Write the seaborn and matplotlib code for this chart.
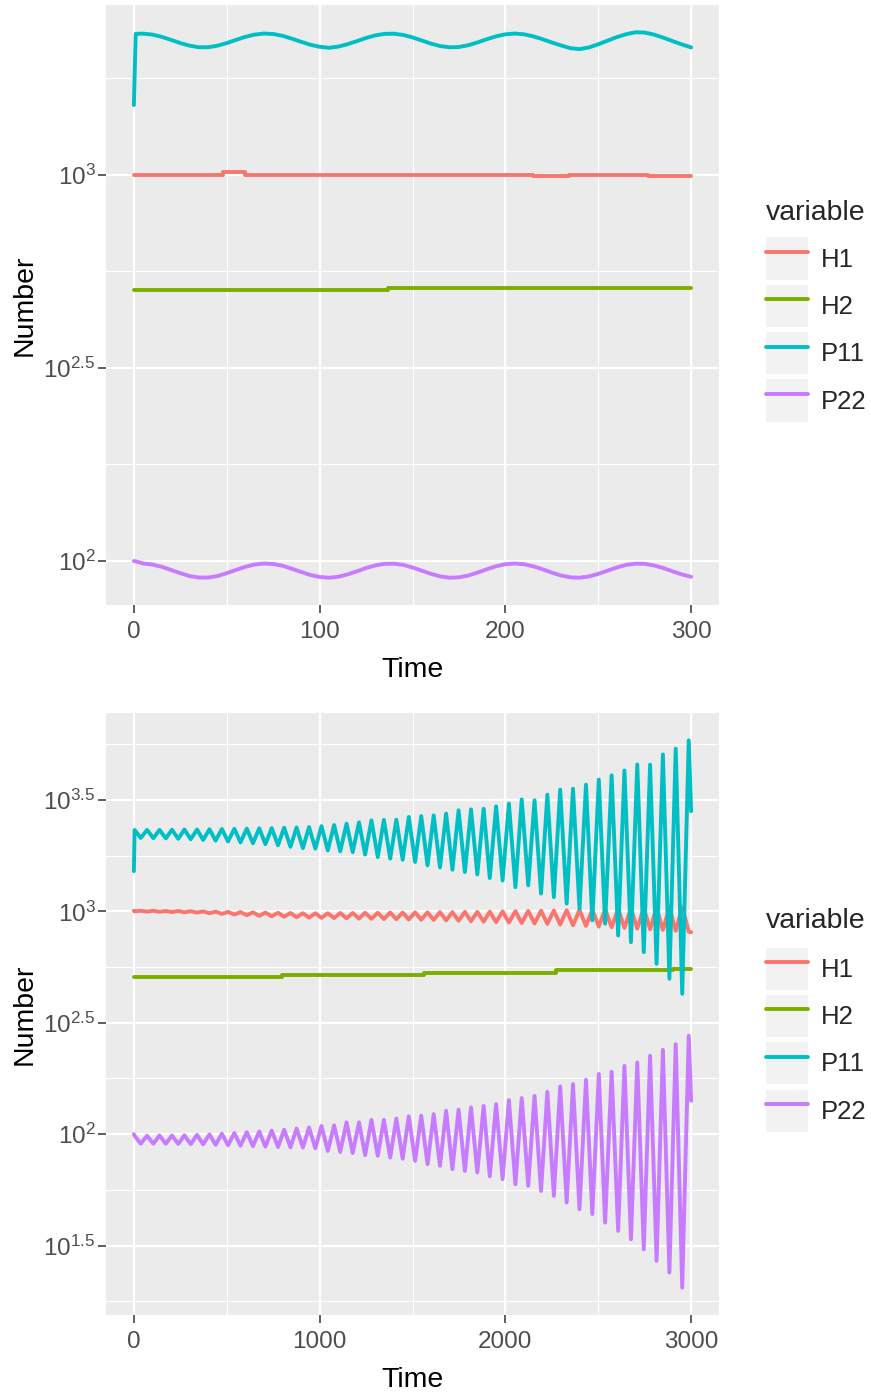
import numpy as np
import pandas as pd
import matplotlib
matplotlib.use("Agg")
import matplotlib.pyplot as plt
from matplotlib.lines import Line2D
from matplotlib.patches import Rectangle
from matplotlib.legend_handler import HandlerTuple
from matplotlib.ticker import FixedLocator, FixedFormatter, NullFormatter
import seaborn as sns

# ---------------- data ----------------
series_names = ["H1", "H2", "P11", "P22"]
series_colors = ["#F8766D", "#7CAE00", "#00BFC4", "#C77CFF"]

# Top panel: Time 0-300
top_h1_time = [0, 48, 60, 215, 234, 277, 300]
top_h1_value = [1000, 1015, 1000, 993, 1000, 993, 993]
top_h2_time = [0, 137, 300]
top_h2_value = [504, 511, 511]
top_p_time = [0, 1, 5, 10, 15, 20, 25, 30, 35, 40,
              45, 50, 55, 60, 65, 70, 75, 80, 85, 90,
              95, 100, 105, 110, 115, 120, 125, 130, 135, 140,
              145, 150, 155, 160, 165, 170, 175, 180, 185, 190,
              195, 200, 205, 210, 215, 220, 225, 230, 235, 240,
              245, 250, 255, 260, 265, 270, 275, 280, 285, 290,
              295, 300]
top_p11_value = [1517, 2320, 2323, 2310, 2279, 2238, 2196, 2162, 2142, 2142,
                 2162, 2196, 2238, 2279, 2310, 2324, 2318, 2293, 2255, 2213,
                 2174, 2148, 2135, 2150, 2181, 2221, 2264, 2299, 2320, 2322,
                 2305, 2272, 2230, 2188, 2157, 2141, 2145, 2168, 2204, 2247,
                 2286, 2314, 2324, 2314, 2286, 2247, 2204, 2165, 2130, 2118,
                 2140, 2180, 2228, 2275, 2315, 2342, 2338, 2310, 2268, 2222,
                 2178, 2140]
top_p22_value = [100.0, 99.8, 98.5, 97.9, 96.6, 94.8, 93.0, 91.4, 90.6, 90.6,
                 91.4, 93.0, 94.8, 96.6, 97.9, 98.5, 98.2, 97.2, 95.5, 93.7,
                 92.0, 90.9, 90.5, 91.0, 92.3, 94.0, 95.9, 97.4, 98.3, 98.4,
                 97.7, 96.2, 94.4, 92.6, 91.2, 90.5, 90.7, 91.7, 93.3, 95.2,
                 96.9, 98.1, 98.5, 98.1, 96.9, 95.2, 93.3, 91.7, 90.7, 90.5,
                 91.2, 92.6, 94.4, 96.2, 97.7, 98.4, 98.3, 97.4, 95.9, 94.0,
                 92.3, 91.0]

# Bottom panel: Time 0-3000 (log10 units)
bot_peak_time = [4, 71, 138, 205, 272, 340, 407, 474, 541, 608,
                 675, 742, 809, 876, 943, 1010, 1078, 1145, 1212, 1279,
                 1346, 1413, 1480, 1547, 1614, 1681, 1748, 1815, 1883, 1950,
                 2019, 2088, 2157, 2226, 2295, 2364, 2434, 2503, 2572, 2641,
                 2710, 2779, 2848, 2917, 2987]
bot_trough_time = [37, 105, 172, 239, 306, 373, 440, 507, 574, 641,
                   708, 776, 843, 910, 977, 1044, 1111, 1178, 1245, 1313,
                   1380, 1447, 1514, 1581, 1648, 1715, 1782, 1849, 1916, 1985,
                   2054, 2123, 2192, 2261, 2330, 2399, 2468, 2537, 2607, 2676,
                   2745, 2814, 2883, 2952]
bot_end_time = [0, 3000]

bot_p11_peak_log10 = [3.366, 3.366, 3.366, 3.367, 3.368, 3.368, 3.369, 3.370, 3.371, 3.372,
                      3.373, 3.374, 3.376, 3.377, 3.379, 3.383, 3.388, 3.394, 3.400, 3.409,
                      3.411, 3.412, 3.424, 3.428, 3.431, 3.439, 3.454, 3.458, 3.461, 3.472,
                      3.484, 3.503, 3.499, 3.524, 3.547, 3.551, 3.569, 3.592, 3.611, 3.633,
                      3.660, 3.659, 3.705, 3.731, 3.768]
bot_p11_trough_log10 = [3.330, 3.329, 3.328, 3.326, 3.324, 3.321, 3.318, 3.314, 3.310, 3.306,
                        3.302, 3.297, 3.290, 3.284, 3.282, 3.274, 3.270, 3.266, 3.255, 3.244,
                        3.237, 3.232, 3.222, 3.207, 3.198, 3.187, 3.177, 3.166, 3.150, 3.139,
                        3.109, 3.117, 3.080, 3.064, 3.035, 3.012, 2.960, 2.945, 2.892, 2.862,
                        2.817, 2.765, 2.698, 2.630]
bot_p11_end_log10 = [3.181, 3.450]

bot_p22_peak_log10 = [1.993, 1.993, 1.994, 1.994, 1.995, 1.997, 1.999, 2.002, 2.005, 2.009,
                      2.012, 2.016, 2.020, 2.025, 2.030, 2.037, 2.040, 2.053, 2.053, 2.064,
                      2.064, 2.070, 2.080, 2.083, 2.090, 2.105, 2.110, 2.120, 2.127, 2.135,
                      2.153, 2.162, 2.172, 2.190, 2.214, 2.225, 2.244, 2.270, 2.280, 2.307,
                      2.322, 2.352, 2.379, 2.404, 2.442]
bot_p22_trough_log10 = [1.957, 1.957, 1.957, 1.956, 1.955, 1.954, 1.952, 1.950, 1.948, 1.946,
                        1.944, 1.942, 1.941, 1.940, 1.937, 1.925, 1.920, 1.915, 1.906, 1.903,
                        1.895, 1.890, 1.880, 1.865, 1.858, 1.843, 1.835, 1.828, 1.811, 1.798,
                        1.775, 1.768, 1.745, 1.723, 1.693, 1.663, 1.641, 1.603, 1.566, 1.528,
                        1.483, 1.431, 1.379, 1.311]
bot_p22_end_log10 = [2.000, 2.150]

bot_h1_low_log10 = [3.000, 2.999, 2.998, 2.997, 2.996, 2.995, 2.992, 2.989, 2.986, 2.983,
                    2.980, 2.978, 2.976, 2.974, 2.972, 2.971, 2.970, 2.969, 2.968, 2.967,
                    2.966, 2.965, 2.964, 2.963, 2.962, 2.960, 2.958, 2.956, 2.954, 2.952,
                    2.950, 2.948, 2.946, 2.944, 2.941, 2.938, 2.935, 2.932, 2.929, 2.926,
                    2.923, 2.920, 2.917, 2.913, 2.909]
bot_h1_high_log10 = [3.003, 3.003, 3.002, 3.002, 3.001, 3.000, 2.999, 2.998, 2.997, 2.996,
                     2.995, 2.994, 2.993, 2.992, 2.992, 2.992, 2.993, 2.993, 2.994, 2.994,
                     2.995, 2.995, 2.996, 2.996, 2.997, 2.997, 2.998, 2.998, 2.999, 3.000,
                     3.001, 3.002, 3.003, 3.004, 3.005, 3.006, 3.008, 3.010, 3.012, 3.014,
                     3.016, 3.018, 3.019, 3.020]
bot_h1_end_log10 = [3.003, 2.907]

bot_h2_time = [0, 796, 1563, 2273, 2900, 3000]
bot_h2_value = [508, 519, 531, 545, 554, 554]

top_xticks = [0, 100, 200, 300]
top_xminor = [50, 150, 250]
top_yticks_log10 = [2.0, 2.5, 3.0]
top_yminor_log10 = [2.25, 2.75, 3.25]
top_ylabels = [r"$10^{2}$", r"$10^{2.5}$", r"$10^{3}$"]

bot_xticks = [0, 1000, 2000, 3000]
bot_xminor = [500, 1500, 2500]
bot_yticks_log10 = [1.5, 2.0, 2.5, 3.0, 3.5]
bot_yminor_log10 = [1.25, 1.75, 2.25, 2.75, 3.25, 3.75]
bot_ylabels = [r"$10^{1.5}$", r"$10^{2}$", r"$10^{2.5}$", r"$10^{3}$", r"$10^{3.5}$"]

# ---------------- build frames ----------------
def frame(name, t, v):
    return pd.DataFrame({"Time": t, "Number": v, "variable": name})

top_frames = {
    "H1": frame("H1", top_h1_time, top_h1_value),
    "H2": frame("H2", top_h2_time, top_h2_value),
    "P11": frame("P11", top_p_time, top_p11_value),
    "P22": frame("P22", top_p_time, top_p22_value),
}

def osc(name, hi_t, hi_v, lo_t, lo_v, end_v):
    t = list(hi_t) + list(lo_t) + list(bot_end_time)
    lv = list(hi_v) + list(lo_v) + list(end_v)
    return frame(name, t, 10 ** np.array(lv))

bot_frames = {
    "H1": osc("H1", bot_trough_time, bot_h1_high_log10, bot_peak_time, bot_h1_low_log10, bot_h1_end_log10),
    "H2": frame("H2", bot_h2_time, bot_h2_value),
    "P11": osc("P11", bot_peak_time, bot_p11_peak_log10, bot_trough_time, bot_p11_trough_log10, bot_p11_end_log10),
    "P22": osc("P22", bot_peak_time, bot_p22_peak_log10, bot_trough_time, bot_p22_trough_log10, bot_p22_end_log10),
}

# ---------------- style ----------------
sns.set_theme(style="darkgrid", rc={
    "axes.facecolor": "#EBEBEB",
    "figure.facecolor": "white",
    "grid.color": "white",
    "axes.edgecolor": "#EBEBEB",
})
plt.rcParams["font.family"] = ["Liberation Sans", "DejaVu Sans"]
plt.rcParams["mathtext.fontset"] = "custom"
plt.rcParams["mathtext.rm"] = "Liberation Sans"
plt.rcParams["mathtext.it"] = "Liberation Sans:italic"
plt.rcParams["mathtext.bf"] = "Liberation Sans:bold"

W, H = 871, 1393
fig = plt.figure(figsize=(W / 100, H / 100), dpi=100)
ax1 = fig.add_axes([106 / W, 1 - 605 / H, 613 / W, 600 / H])
ax2 = fig.add_axes([106 / W, 1 - 1315 / H, 613 / W, 602 / H])

top_style = {"H1": "steps-post", "H2": "steps-post"}
bot_style = {"H2": "steps-post"}


def draw(ax, frames, styles, xt, xm, yt, ym, ylab, title_gap, anchor_y):
    for name, col in zip(series_names, series_colors):
        kw = dict(drawstyle=styles[name]) if name in styles else {}
        sns.lineplot(data=frames[name], x="Time", y="Number", color=col,
                     linewidth=2.8, estimator=None, sort=True, ax=ax,
                     legend=False, **kw)
    ax.set_yscale("log")
    ax.margins(x=0.05, y=0.05)
    ax.autoscale_view()
    ax.xaxis.set_major_locator(FixedLocator(xt))
    ax.xaxis.set_minor_locator(FixedLocator(xm))
    ax.xaxis.set_major_formatter(FixedFormatter([str(v) for v in xt]))
    ax.yaxis.set_major_locator(FixedLocator(list(10 ** np.array(yt))))
    ax.yaxis.set_minor_locator(FixedLocator(list(10 ** np.array(ym))))
    ax.yaxis.set_major_formatter(FixedFormatter(ylab))
    ax.yaxis.set_minor_formatter(NullFormatter())
    ax.grid(which="major", color="white", linewidth=1.6)
    ax.grid(which="minor", color="white", linewidth=0.8)
    for s in ax.spines.values():
        s.set_visible(False)
    ax.tick_params(which="major", length=5.5, width=1.1, color="#333333",
                   labelcolor="#4D4D4D", labelsize=17.5, bottom=True, left=True)
    ax.tick_params(axis="x", which="major", pad=6)
    ax.tick_params(axis="y", which="major", pad=2)
    ax.tick_params(which="minor", length=0)
    ax.set_xlabel("Time", fontsize=20.5, color="black", labelpad=10)
    ax.set_ylabel("Number", fontsize=20.5, color="black", labelpad=4)

    handles = [(Rectangle((0, 0), 1, 1, facecolor="#F2F2F2", edgecolor="none"),
                Line2D([0], [0], color=c, lw=2.8)) for c in series_colors]
    leg = ax.legend(handles, series_names, title="variable",
                    handler_map={tuple: HandlerTuple(ndivide=1, pad=0)},
                    loc="center left", bbox_to_anchor=(1.0767, anchor_y),
                    frameon=False, fontsize=18.5, title_fontsize=20.5,
                    handlelength=1.65, handleheight=2.15, labelspacing=0.2,
                    handletextpad=0.5, borderpad=0, borderaxespad=0,
                    alignment="left")
    leg._legend_box.sep = title_gap


draw(ax1, top_frames, top_style, top_xticks, top_xminor,
     top_yticks_log10, top_yminor_log10, top_ylabels, 8.0, 0.49)
draw(ax2, bot_frames, bot_style, bot_xticks, bot_xminor,
     bot_yticks_log10, bot_yminor_log10, bot_ylabels, 9.5, 0.49)

fig.savefig("out.png", dpi=100)
